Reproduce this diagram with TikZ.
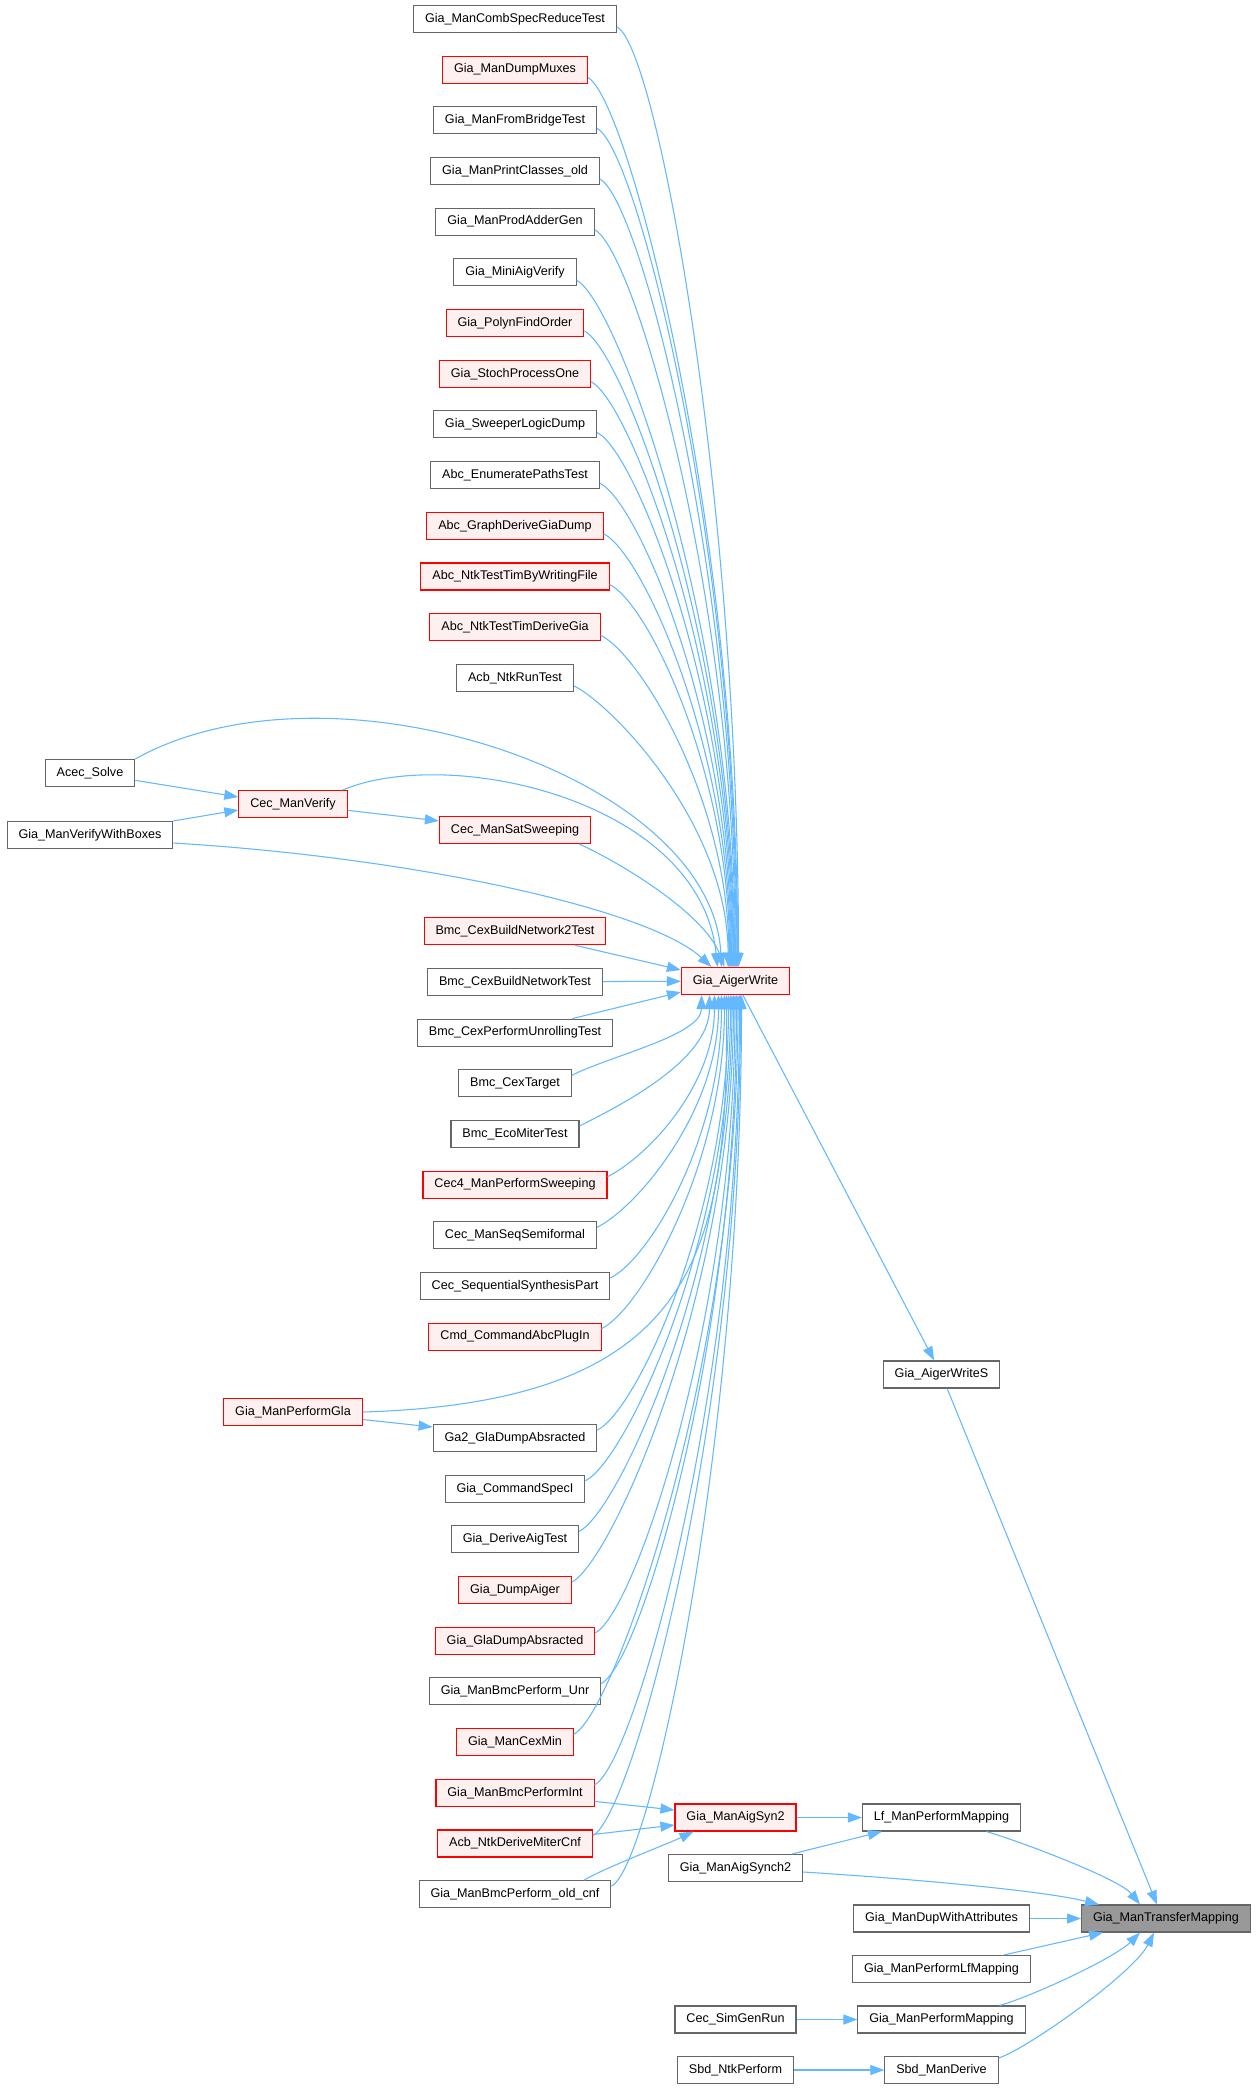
\documentclass[tikz,border=0pt]{standalone}
\usepackage{fontspec}
\setmainfont{Liberation Sans}
\usetikzlibrary{arrows.meta,calc}
\definecolor{edgeblue}{HTML}{63B8FF}
\definecolor{nodegray}{HTML}{666666}
\definecolor{redfill}{HTML}{FFF0F0}
\definecolor{rootfill}{HTML}{999999}
\begin{document}
\begin{tikzpicture}[x=0.75pt,y=-0.75pt,
  box/.style={draw=nodegray, line width=0.8pt, fill=white, rectangle,
    minimum height=20.25pt, inner xsep=8.6pt, inner ysep=0pt,
    text height=6.9pt, text depth=2pt, font=\fontsize{9.45}{11}\selectfont},
  redbox/.style={box, draw=red, fill=redfill},
  rootbox/.style={box, fill=rootfill},
  edge/.style={draw=edgeblue, line width=0.8pt, -{Triangle[length=10.5pt,width=7.5pt]}}]
\fill[white] (0,0) rectangle (1256,2089);
\useasboundingbox (0,0) rectangle (1256,2089);

% left column (rank 1)
\foreach \k/\name/\sty in {
  0/Gia\_ManCombSpecReduceTest/box,
  1/Gia\_ManDumpMuxes/redbox,
  2/Gia\_ManFromBridgeTest/box,
  3/Gia\_ManPrintClasses\_old/box,
  4/Gia\_ManProdAdderGen/box,
  5/Gia\_MiniAigVerify/box,
  6/Gia\_PolynFindOrder/redbox,
  7/Gia\_StochProcessOne/redbox,
  8/Gia\_SweeperLogicDump/box,
  9/Abc\_EnumeratePathsTest/box,
  10/Abc\_GraphDeriveGiaDump/redbox,
  11/Abc\_NtkTestTimByWritingFile/redbox,
  12/Abc\_NtkTestTimDeriveGia/redbox,
  13/Acb\_NtkRunTest/box,
  16/Cec\_ManSatSweeping/redbox,
  18/Bmc\_CexBuildNetwork2Test/redbox,
  19/Bmc\_CexBuildNetworkTest/box,
  20/Bmc\_CexPerformUnrollingTest/box,
  21/Bmc\_CexTarget/box,
  22/Bmc\_EcoMiterTest/box,
  23/Cec4\_ManPerformSweeping/redbox,
  24/Cec\_ManSeqSemiformal/box,
  25/Cec\_SequentialSynthesisPart/box,
  26/Cmd\_CommandAbcPlugIn/redbox,
  28/Ga2\_GlaDumpAbsracted/box,
  29/Gia\_CommandSpecI/box,
  30/Gia\_DeriveAigTest/box,
  31/Gia\_DumpAiger/redbox,
  32/Gia\_GlaDumpAbsracted/redbox,
  33/Gia\_ManBmcPerform\_Unr/box,
  34/Gia\_ManCexMin/redbox,
  35/Gia\_ManBmcPerformInt/redbox,
  36/Acb\_NtkDeriveMiterCnf/redbox,
  37/Gia\_ManBmcPerform\_old\_cnf/box}
  \node[\sty] (r\k) at (515,{19+50.68*\k}) {\name};

\node[box] (ACS) at (90,773) {Acec\_Solve};
\node[redbox] (CMV) at (293,804) {Cec\_ManVerify};
\node[box] (VWB) at (90,835) {Gia\_ManVerifyWithBoxes};
\node[redbox] (GLA) at (293,1412) {Gia\_ManPerformGla};
\node[redbox] (AW) at (735.5,981) {Gia\_AigerWrite};
\node[box] (AWS) at (941.5,1374.5) {Gia\_AigerWriteS};
\node[redbox] (AS2) at (735.5,1817.5) {Gia\_ManAigSyn2};
\node[box] (ASY) at (735.5,1868) {Gia\_ManAigSynch2};
\node[box] (LPM) at (941.5,1817.5) {Lf\_ManPerformMapping};
\node[rootbox] (TM) at (1166,1918.5) {Gia\_ManTransferMapping};
\node[box] (DWA) at (941.5,1918.5) {Gia\_ManDupWithAttributes};
\node[box] (PLM) at (941.5,1969) {Gia\_ManPerformLfMapping};
\node[box] (PM) at (941.5,2019.5) {Gia\_ManPerformMapping};
\node[box] (CSG) at (735.5,2019.5) {Cec\_SimGenRun};
\node[box] (SNP) at (735.5,2070) {Sbd\_NtkPerform};
\node[box] (SMD) at (941.5,2070) {Sbd\_ManDerive};

% edges from upper rows into the top of Gia_AigerWrite
\foreach \k in {0,...,13} {
  \coordinate (s) at ($(r\k.east)+(0,8)$);
  \coordinate (e) at ($(AW.north)+({3-0.8*\k},0)$);
  \coordinate (m) at ($(s)!0.5!(e)$);
  \draw[edge] (s) .. controls +(40,20) and (e |- m) .. (e);
}
% edges from lower rows into the bottom of Gia_AigerWrite
\foreach \k/\o in {21/-34,22/-26,23/-21,24/-17,25/-14,26/-11,28/-7,29/-5,30/-3.5,31/-2,32/-0.5,33/1,34/2.5,35/4,36/5,37/6} {
  \coordinate (s) at ($(r\k.east)+(0,-8)$);
  \coordinate (e) at ($(AW.south)+(\o,0)$);
  \coordinate (m) at ($(s)!0.5!(e)$);
  \draw[edge] (s) .. controls +(40,-20) and (e |- m) .. (e);
}

\draw[edge] (ACS.north east) .. controls (330,650) and (712,775) .. ($(AW.north)+(-14,0)$);
\draw[edge] ($(CMV.north east)+(-5,0)$) .. controls (450,745) and (700,800) .. ($(AW.north)+(-18,0)$);
\draw[edge] ($(VWB.east)+(0,8)$) .. controls (420,858) and (650,910) .. ($(AW.north)+(-24,0)$);
\draw[edge] ($(r16.south east)+(-12,0)$) .. controls (625,865) and (705,915) .. ($(AW.north)+(-11,0)$);
\draw[edge] (GLA.east) .. controls (700,1402) and (728,1250) .. ($(AW.south)+(-9,0)$);

\draw[edge] (r18) -- ($(AW.west)+(0,-11)$);
\draw[edge] (r19) -- (AW);
\draw[edge] (r20) -- ($(AW.west)+(0,11)$);

\draw[edge] (ACS) -- ($(CMV.west)+(0,-7)$);
\draw[edge] (VWB) -- ($(CMV.west)+(0,6)$);
\draw[edge] (CMV) -- ($(r16.west)+(0,-9)$);
\draw[edge] (GLA) -- ($(r28.west)+(0,-11)$);

\draw[edge] (AW) -- (AWS);
\draw[edge] (AWS) -- ($(TM.north)+(-9,0)$);

\draw[edge] (r35) -- ($(AS2.west)+(0,-7.5)$);
\draw[edge] (r36) -- ($(AS2.west)+(0,7.5)$);
\draw[edge] ($(r37.north)+(69,0)$) .. controls +(20,-12) and ($(AS2.south west)+(-6,12)$) .. ($(AS2.south west)+(19,0)$);
\draw[edge] (AS2) -- (LPM);
\draw[edge] (ASY) -- ($(LPM.south west)+(20,0)$);
\draw[edge] ($(LPM.south)+(45,0)$) .. controls +(40,12) and ($(TM.north)+(-46,-25)$) .. ($(TM.north)+(-26,0)$);
\draw[edge] ($(ASY.east)+(0,4)$) .. controls (900,1878) and (1040,1890) .. ($(TM.north west)+(18,0)$);
\draw[edge] (DWA) -- (TM);
\draw[edge] (PLM) -- ($(TM.south west)+(22,0)$);
\draw[edge] ($(PM.north)+(58,0)$) .. controls +(35,-10) and ($(TM.south)+(-51,25)$) .. ($(TM.south)+(-26,0)$);
\draw[edge] ($(SMD.east)+(0,-12)$) .. controls +(30,-10) and ($(TM.south)+(-32,40)$) .. ($(TM.south)+(-12,0)$);
\draw[edge] (CSG) -- (PM);
\draw[edge] (SNP) -- (SMD);
\end{tikzpicture}
\end{document}
